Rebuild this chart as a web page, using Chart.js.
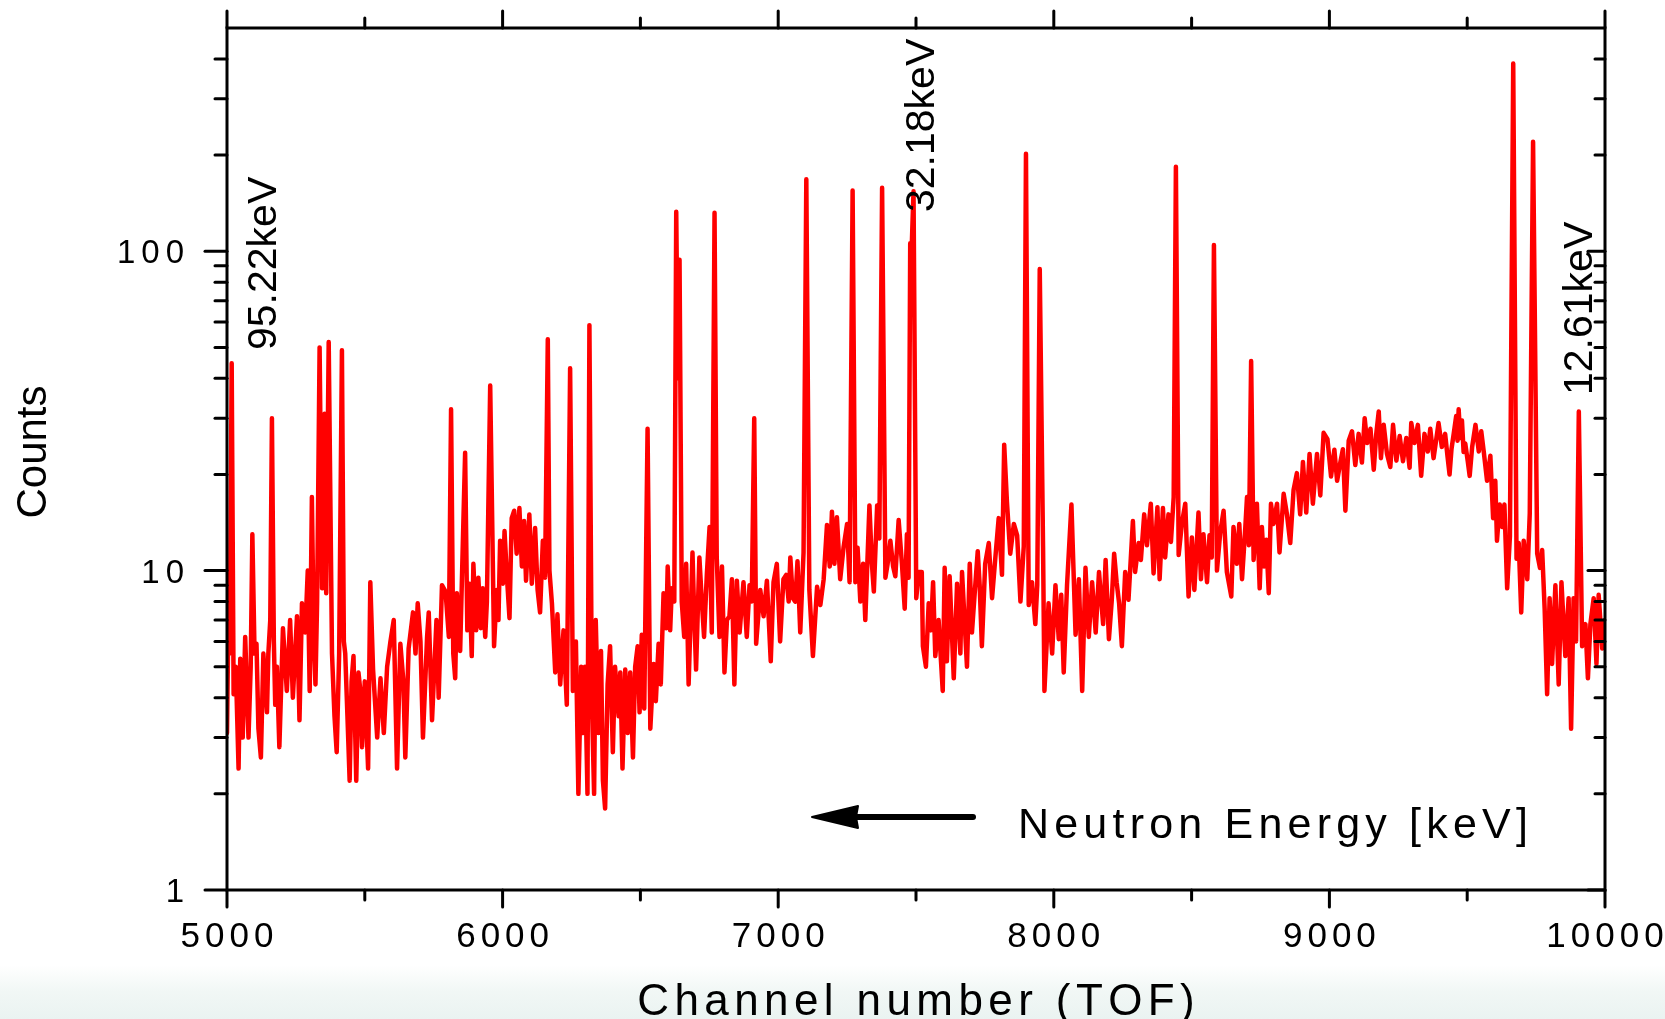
<!DOCTYPE html>
<html>
<head>
<meta charset="utf-8">
<title>TOF spectrum</title>
<script src="https://cdn.jsdelivr.net/npm/chart.js@4.4.1/dist/chart.umd.min.js"></script>
<style>
  html, body { margin: 0; padding: 0; background: #fff; }
  #wrap { position: relative; width: 1665px; height: 1019px; overflow: hidden; background: #fff; }
  #fade { position: absolute; left: 0; top: 965px; width: 1665px; height: 54px;
          background: linear-gradient(to bottom, rgba(236,244,242,0) 0%, #f1f7f5 50%, #eaf3f1 100%); }
  #chart { position: absolute; left: 0; top: 0; }
</style>
</head>
<body>
<div id="wrap">
  <div id="fade"></div>
  <canvas id="chart" width="1665" height="1019"></canvas>
</div>
<script>
// spectrum, in 1000-channel pieces
const chan5k = [
  5000, 5004, 5010, 5017, 5024, 5032, 5042, 5048, 5057, 5066, 5078, 5086, 5092, 5100, 5107, 5114, 5123, 5132, 5145, 5150, 5157, 5163, 5170, 5175, 5181, 5190,
  5203, 5217, 5229, 5239, 5254, 5263, 5272, 5284, 5293, 5300, 5308, 5315, 5321, 5327, 5336, 5345, 5354, 5360, 5369, 5381, 5390, 5398, 5407, 5417, 5424, 5429, 5437, 5445, 5452, 5459, 5469, 5477, 5484, 5490,
  5500, 5512, 5520, 5530, 5545, 5557, 5569, 5581, 5593, 5605, 5617, 5629, 5640, 5647, 5659, 5675, 5684, 5692, 5702, 5711, 5726, 5732, 5744, 5760, 5768, 5780, 5793, 5805, 5813, 5821,
  5828, 5834, 5846, 5852, 5864, 5872, 5880, 5888, 5894, 5904, 5912, 5921, 5928, 5937, 5943, 5955, 5969, 5979, 5985, 5991
];
const count5k = [
  3.1, 6, 5.5, 44.6, 4.1, 5, 2.4, 5.3, 3.0, 6.2, 3.0, 5, 13, 5.5, 5.9, 3.2, 2.6, 5.5, 3.6, 5.5, 7, 30, 6, 3.8, 5.0, 2.8,
  6.6, 4.2, 7.0, 4.0, 7.2, 3.4, 7.9, 6.4, 10, 4.2, 17, 6, 4.4, 8.0, 50, 8.8, 31, 8.5, 52, 5.5, 3.5, 2.7, 5.5, 49, 6, 5.5, 3.5, 2.2, 4.5, 5.4, 2.2, 4.8, 4.2, 2.8,
  4.5, 2.4, 9.2, 4.9, 3.0, 4.6, 3.1, 5.0, 6.0, 7.0, 2.4, 5.9, 4.5, 2.6, 5.7, 7.4, 5.5, 7.9, 6.0, 3.0, 6.2, 7.4, 3.4, 7.0, 4.0, 9.0, 8.6, 6.2, 32, 5.5,
  4.6, 8.5, 5.6, 9.1, 23.4, 6.5, 9.1, 5.4, 10.5, 6.5, 9.5, 6.6, 8.8, 6.2, 8.0, 38, 5.8, 8.7, 7.0, 12.4
];

const chan6k = [
  6001, 6007, 6015, 6025, 6033, 6042, 6051, 6061, 6070, 6078,
  6085, 6097, 6106, 6118, 6127, 6136, 6146, 6154, 6164, 6170, 6179,
  6191, 6199, 6209, 6221, 6233, 6245, 6255, 6266, 6275, 6285,
  6293, 6299, 6308, 6315, 6324, 6332, 6338, 6348, 6357, 6364,
  6372, 6381, 6390, 6400, 6408, 6421, 6427, 6435, 6445, 6454,
  6463, 6473, 6481, 6490, 6497, 6505, 6514, 6526, 6536, 6548,
  6556, 6566, 6574, 6584, 6594, 6599, 6608, 6614, 6623, 6630,
  6636, 6642, 6650, 6659, 6666, 6675, 6689, 6695, 6702, 6714,
  6723, 6731, 6741, 6751, 6759, 6769, 6777, 6787, 6796, 6805,
  6814, 6823, 6832, 6841, 6850, 6860, 6874, 6886, 6896, 6904,
  6913, 6920, 6935, 6947, 6959, 6973, 6983, 6995
];
const count6k = [
  9.1, 13.3, 9.8, 7.1, 14.6, 15.4, 11.3, 15.7, 10.3, 14.3,
  9.3, 15, 9.1, 13.6, 8.7, 7.4, 12.4, 9.5, 53, 10, 7.9,
  4.8, 7.3, 4.4, 6.5, 3.8, 43, 4.2, 6, 2.0, 5,
  3.1, 5, 2.0, 58.7, 3.9, 2.0, 7, 3.1, 5.6, 2.2,
  1.8, 4.4, 5.8, 2.7, 5, 3.5, 4.8, 2.4, 4.9, 3.1,
  4.8, 2.6, 5, 5.8, 3.6, 6.3, 3.7, 27.8, 3.2, 5.1,
  3.9, 5.9, 4.4, 8.5, 6.6, 10.3, 6.5, 8.8, 8, 133,
  40, 94, 8, 6.2, 10.5, 4.4, 11.4, 7.4, 4.9, 11,
  8, 6.2, 9.7, 13.7, 6.4, 132, 11, 6.2, 10.3, 4.8,
  7, 7.2, 9.4, 4.4, 9.3, 6.4, 9.2, 6.2, 9, 8,
  30, 5.9, 8.7, 7.2, 9.3, 5.2, 9.2, 10.5
];

const chan7k = [
  7007, 7019, 7029, 7038, 7044, 7053, 7062, 7070, 7080, 7092,
  7102, 7113, 7126, 7141, 7153, 7165, 7177, 7187, 7195, 7204,
  7213, 7225, 7237, 7250, 7259, 7270, 7280, 7288, 7298, 7308,
  7316, 7331, 7340, 7347, 7359, 7367, 7377, 7389, 7397, 7407,
  7417, 7425, 7437, 7449, 7459, 7467, 7473, 7479, 7484, 7491,
  7501, 7510, 7521, 7525, 7536, 7546, 7554, 7562, 7570, 7582,
  7597, 7604, 7612, 7622, 7637, 7649, 7661, 7667, 7685, 7695,
  7703, 7713, 7724, 7731, 7739, 7751, 7764, 7776, 7788, 7800,
  7812, 7820, 7830, 7842, 7855, 7867, 7879, 7891, 7899, 7909,
  7921, 7933, 7940, 7949, 7961, 7966, 7981, 7994
];
const count7k = [
  6, 9.4, 9.7, 8, 11, 8.2, 8, 10.7, 6.4, 11.4,
  168, 8.7, 5.4, 8.9, 7.8, 9.4, 13.9, 10.3, 15.3, 10.5,
  14.7, 9.4, 11.8, 14, 9.2, 155, 9.2, 11.8, 8, 10.5,
  7, 16, 10.5, 8.6, 16, 12.6, 158, 9.5, 10.5, 12.4,
  10.3, 9.6, 14.4, 10.5, 7.6, 13, 9.5, 106, 100, 154,
  8.2, 9.9, 9.9, 5.8, 5, 7.9, 6.5, 9.2, 5.4, 7,
  4.2, 10.2, 5.2, 9.6, 4.6, 9.1, 5.5, 9.9, 5, 10.5,
  6.4, 8.5, 11.5, 9, 5.8, 10.5, 12.2, 8.2, 11, 14.6,
  9.7, 24.8, 16.4, 11.3, 14, 12.9, 8, 11.9, 202, 7.8,
  9.2, 6.8, 9, 88, 11.9, 4.2, 7.9, 5.5
];

const chan8k = [
  8006, 8018, 8027, 8036, 8048, 8064, 8079, 8091, 8103, 8115,
  8127, 8139, 8152, 8164, 8179, 8188, 8200, 8210, 8219, 8228,
  8237, 8247, 8259, 8271, 8287, 8295, 8308, 8316, 8328, 8338,
  8352, 8362, 8376, 8384, 8396, 8404, 8416, 8425, 8435, 8443,
  8453, 8465, 8477, 8489, 8501, 8510, 8525, 8534, 8543, 8556,
  8565, 8573, 8581, 8592, 8604, 8616, 8628, 8644, 8652, 8664,
  8673, 8683, 8695, 8701, 8708, 8716, 8725, 8737, 8747, 8755,
  8763, 8771, 8780, 8788, 8797, 8810, 8819, 8834, 8846, 8858,
  8870, 8882, 8894, 8904, 8916, 8928, 8940, 8955, 8967, 8979,
  8993
];
const count8k = [
  9, 6.1, 8.4, 4.8, 9, 16.1, 6.3, 9.4, 4.2, 10.2,
  6.2, 9.2, 6.4, 9.9, 6.8, 10.8, 6.1, 8, 11.3, 9.2,
  7.9, 5.8, 9.9, 8.1, 14.3, 9.9, 12.2, 10.8, 15, 12,
  16.2, 9.8, 15.8, 9.4, 15.7, 11, 15, 12.3, 17, 184,
  11.2, 14.1, 16.2, 8.3, 12.7, 8.7, 15.2, 9.4, 13, 9.2,
  12.9, 11, 104.6, 10, 13.2, 15.4, 9.9, 8.3, 13.7, 10.5,
  14, 9.4, 13.7, 17, 12, 45.3, 10.8, 16.2, 8.8, 13.7,
  10.3, 12.5, 8.5, 16.2, 14, 16.2, 11.4, 17.4, 15, 12.2,
  17.9, 20.2, 15, 21.9, 15.2, 23.2, 16.2, 23.2, 17.2, 27,
  25.8
];

const chan9k = [
  9006, 9018, 9028, 9040, 9049, 9058, 9070, 9082, 9094, 9106,
  9118, 9128, 9137, 9149, 9161, 9170, 9179, 9187, 9197, 9209,
  9221, 9231, 9243, 9255, 9267, 9279, 9291, 9297, 9309, 9321,
  9333, 9345, 9357, 9366, 9378, 9387, 9396, 9408, 9420, 9428,
  9436, 9443, 9451, 9460, 9465, 9469, 9475, 9481, 9487, 9493, 9502, 9509, 9518,
  9530, 9542, 9551, 9560, 9572, 9584, 9594, 9602, 9608, 9618,
  9627, 9635, 9645, 9655, 9667, 9679, 9687, 9696, 9705, 9718,
  9727, 9739, 9754, 9764, 9772, 9781, 9790, 9799, 9808, 9820,
  9832, 9842, 9856, 9868, 9877, 9886, 9895, 9905, 9917, 9929,
  9938, 9947, 9959, 9969, 9977, 9990, 10000
];
const count9k = [
  19.7, 23.9, 19.1, 21.9, 24, 15.4, 25.5, 27.3, 21.4, 26.8,
  21.8, 30, 25.1, 27.8, 20.7, 26.8, 31.5, 22.5, 28.6, 23.2,
  21.1, 28.6, 22.1, 26.4, 22, 26, 21, 29, 25.1, 28.6,
  19.8, 26.8, 23.6, 27.8, 22.5, 25.5, 29, 24.4, 26.8, 23,
  20, 24, 26.8, 30.5, 25.5, 32, 26, 29.5, 23.5, 25, 22, 19.8, 24.4,
  28.6, 23.6, 27.3, 23.6, 19.1, 22.9, 14.6, 19.1, 12.4, 16.1,
  13.7, 16.1, 8.8, 12.8, 387, 10.9, 12.2, 7.4, 12.4, 9.4,
  15.1, 220, 11.3, 10.2, 11.6, 7.6, 4.1, 8.2, 5.1, 9,
  4.4, 9.2, 5.4, 8.2, 3.2, 8.2, 6, 31.5, 5.8, 6.8,
  4.6, 6.8, 8.2, 5.1, 8.4, 5.7, 7
];

// axes
const xMajor = [5000, 6000, 7000, 8000, 9000, 10000];
const xMinor = [5500, 6500, 7500, 8500, 9500];
const yMajor = [1, 10, 100];
const yMinor = [2, 3, 4, 5, 6, 7, 8, 9, 20, 30, 40, 50, 60, 70, 80, 90, 200, 300, 400];
const peakLabels = ["95.22keV", "32.18keV", "12.61keV"];

const pieces = [[chan5k, count5k], [chan6k, count6k], [chan7k, count7k], [chan8k, count8k], [chan9k, count9k]];
const points = [];
pieces.forEach(([ch, n]) => {
  if (ch.length !== n.length) console.warn("length mismatch", ch[0], ch.length, n.length);
  ch.forEach((c, i) => points.push({ x: c, y: n[i] }));
});

const FONT = '"Liberation Sans", Arial, sans-serif';

// draw text with fixed gaps between letters
function spaced(ctx, str, x, y, gap, align) {
  let w = 0;
  for (const ch of str) w += ctx.measureText(ch).width;
  w += gap * (str.length - 1);
  let cx = align === "center" ? x - w / 2 : align === "right" ? x - w : x;
  ctx.textAlign = "left";
  for (const ch of str) {
    ctx.fillText(ch, cx, y);
    cx += ctx.measureText(ch).width + gap;
  }
}

const frame = {
  id: "frame",
  afterDatasetsDraw(chart) {
    const { ctx, chartArea: a, scales } = chart;
    const sx = scales.x, sy = scales.y;
    ctx.save();
    ctx.strokeStyle = "#000";
    ctx.fillStyle = "#000";
    ctx.lineWidth = 3;
    ctx.lineCap = "round";
    ctx.strokeRect(a.left, a.top, a.right - a.left, a.bottom - a.top);

    const line = (x1, y1, x2, y2) => { ctx.beginPath(); ctx.moveTo(x1, y1); ctx.lineTo(x2, y2); ctx.stroke(); };
    xMajor.forEach(v => {
      const px = sx.getPixelForValue(v);
      line(px, a.bottom, px, a.bottom + 17);
      line(px, a.top, px, a.top - 17);
    });
    xMinor.forEach(v => {
      const px = sx.getPixelForValue(v);
      line(px, a.bottom, px, a.bottom + 10);
      line(px, a.top, px, a.top - 10);
    });
    yMajor.forEach(v => {
      const py = sy.getPixelForValue(v);
      line(a.left - 22, py, a.left, py);
      line(a.right - 17, py, a.right, py);
    });
    yMinor.forEach(v => {
      const py = sy.getPixelForValue(v);
      line(a.left - 12, py, a.left, py);
      line(a.right - 10, py, a.right, py);
    });

    // tick labels
    ctx.textBaseline = "alphabetic";
    ctx.font = "35px " + FONT;
    xMajor.forEach(v => spaced(ctx, String(v), sx.getPixelForValue(v), 947, 5, "center"));
    ctx.font = "33px " + FONT;
    yMajor.forEach(v => spaced(ctx, String(v), 184, sy.getPixelForValue(v) + 12, 6, "right"));

    // axis titles
    ctx.font = "44px " + FONT;
    spaced(ctx, "Channel number (TOF)", (a.left + a.right) / 2, 1015, 5.4, "center");
    ctx.save();
    ctx.translate(46, 452);
    ctx.rotate(-Math.PI / 2);
    ctx.font = "42px " + FONT;
    ctx.textAlign = "center";
    ctx.fillText("Counts", 0, 0);
    ctx.restore();

    // rotated peak energies
    ctx.font = "41px " + FONT;
    const anchors = [[276, 350], [934, 212], [1592, 395]];
    peakLabels.forEach((t, i) => {
      ctx.save();
      ctx.translate(anchors[i][0], anchors[i][1]);
      ctx.rotate(-Math.PI / 2);
      ctx.textAlign = "left";
      ctx.fillText(t, 0, 0);
      ctx.restore();
    });

    // arrow + caption
    ctx.lineWidth = 6;
    ctx.lineCap = "round";
    line(973, 817, 850, 817);
    ctx.beginPath();
    ctx.moveTo(812, 817);
    ctx.lineTo(858, 806);
    ctx.lineTo(856, 817);
    ctx.lineTo(858, 828);
    ctx.closePath();
    ctx.lineJoin = "round";
    ctx.lineWidth = 2;
    ctx.fill();
    ctx.stroke();
    ctx.font = "43px " + FONT;
    spaced(ctx, "Neutron Energy [keV]", 1018, 838, 5.2, "left");
    ctx.restore();
  }
};

new Chart(document.getElementById("chart"), {
  type: "line",
  data: {
    datasets: [{
      data: points,
      borderColor: "#ff0000",
      borderWidth: 4.5,
      borderJoinStyle: "round",
      borderCapStyle: "round",
      pointRadius: 0,
      tension: 0,
      fill: false
    }]
  },
  options: {
    responsive: false,
    animation: false,
    events: [],
    layout: { padding: { left: 227, right: 60, top: 28, bottom: 129 } },
    plugins: { legend: { display: false }, tooltip: { enabled: false } },
    scales: {
      x: { type: "linear", min: 5000, max: 10000, display: false },
      y: { type: "logarithmic", min: 1, max: 500, display: false }
    }
  },
  plugins: [frame]
});
</script>
</body>
</html>
